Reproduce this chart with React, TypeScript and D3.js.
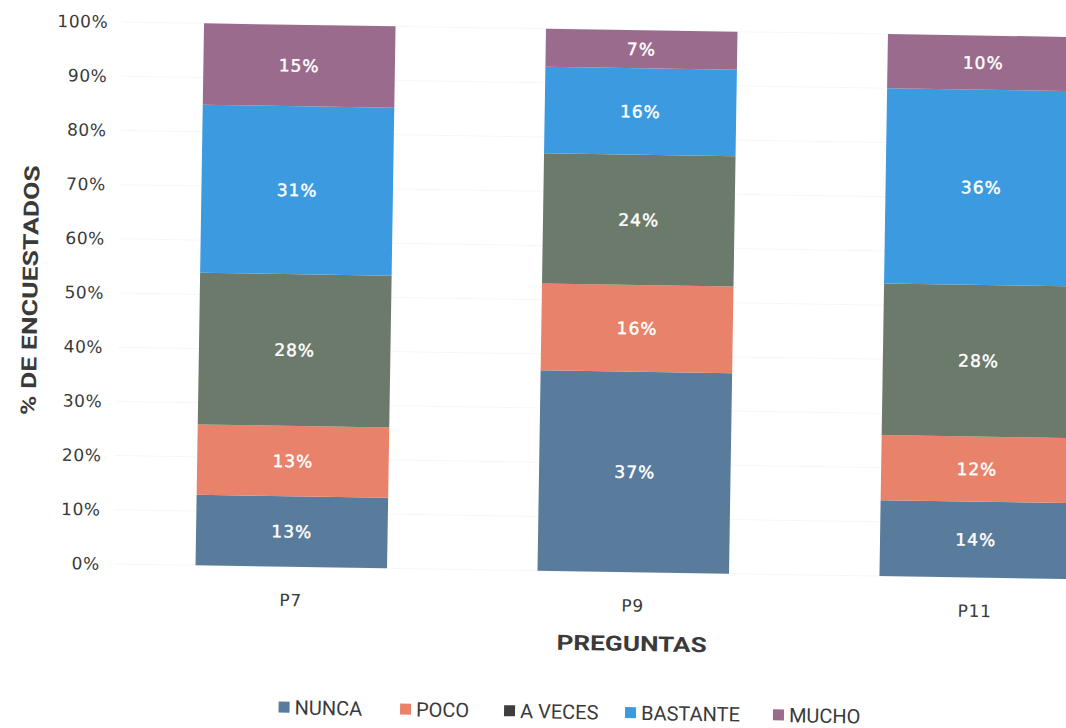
import React from "react";
import * as d3 from "d3";

const categories = ["P7", "P9", "P11"];
const seriesNames = ["NUNCA", "POCO", "A VECES", "BASTANTE", "MUCHO"];
const nunca = [13, 37, 14];
const poco = [13, 16, 12];
const aVeces = [28, 24, 28];
const bastante = [31, 16, 36];
const mucho = [15, 7, 10];
const yTicks = [0, 10, 20, 30, 40, 50, 60, 70, 80, 90, 100];
const colors = ["#597b9c", "#e9826a", "#6c7a6b", "#3c9ae1", "#9a6b8c"];
const legendColors = ["#597b9c", "#e9826a", "#3e3e3e", "#3c9ae1", "#9a6b8c"];

const W = 1066;
const H = 728;

export default function App() {
  const seriesValues = [nunca, poco, aVeces, bastante, mucho];
  const rows = categories.map((c, i) => {
    const r: any = { cat: c };
    seriesNames.forEach((s, k) => (r[s] = seriesValues[k][i]));
    return r;
  });
  const stacked = d3.stack<any>().keys(seriesNames)(rows);

  const x = d3
    .scaleBand()
    .domain(categories)
    .range([124.5, 124.5 + 342 * 3])
    .paddingInner(0.44)
    .paddingOuter(0.22);
  const y = d3.scaleLinear().domain([0, 100]).range([570.5, 28.5]);

  const legendX = [285, 406.5, 510.5, 631.5, 779.5];
  const legendY = 711;

  return (
    <svg
      width={W}
      height={H}
      style={{ position: "absolute", left: 0, top: 0, background: "#fff" }}
    >
      <rect width={W} height={H} fill="#fff" />
      <g transform="rotate(0.9 530 300)">
        {yTicks.map((t) => (
          <line
            key={"g" + t}
            x1={118}
            x2={W + 40}
            y1={y(t)}
            y2={y(t)}
            stroke="#f7f7f7"
            strokeWidth={1}
          />
        ))}
        {yTicks.map((t) => (
          <text
            key={"t" + t}
            x={104}
            y={y(t)}
            dy="0.35em"
            textAnchor="end"
            fontFamily="DejaVu Sans"
            fontSize={17}
            letterSpacing={0.6}
            fill="#3a3a3a"
          >
            {t + "%"}
          </text>
        ))}
        {stacked.map((layer, k) =>
          layer.map((d, i) => (
            <rect
              key={layer.key + i}
              x={x(categories[i])}
              width={x.bandwidth()}
              y={y(d[1])}
              height={y(d[0]) - y(d[1])}
              fill={colors[k]}
            />
          ))
        )}
        {stacked.map((layer, k) =>
          layer.map((d, i) => (
            <text
              key={"l" + layer.key + i}
              x={(x(categories[i]) as number) + x.bandwidth() / 2}
              y={(y(d[0]) + y(d[1])) / 2}
              dy="0.36em"
              textAnchor="middle"
              fontFamily="DejaVu Sans"
              fontSize={17}
              letterSpacing={1}
              fill="#ffffff"
              stroke="#ffffff"
              strokeWidth={0.45}
            >
              {seriesValues[k][i] + "%"}
            </text>
          ))
        )}
        {categories.map((c) => (
          <text
            key={"x" + c}
            x={(x(c) as number) + x.bandwidth() / 2}
            y={604}
            dy="0.35em"
            textAnchor="middle"
            fontFamily="DejaVu Sans"
            fontSize={17}
            letterSpacing={0.8}
            fill="#3a3a3a"
          >
            {c}
          </text>
        ))}
        <text
          x={637}
          y={642}
          dy="0.35em"
          textAnchor="middle"
          fontFamily="Roboto"
          fontWeight="bold"
          fontSize={21}
          textLength={150}
          lengthAdjust="spacingAndGlyphs"
          fill="#3a3a3a"
        >
          PREGUNTAS
        </text>
        <text
          transform="translate(30,298) rotate(-90)"
          dy="0.35em"
          textAnchor="middle"
          fontFamily="Roboto"
          fontWeight="bold"
          fontSize={21}
          textLength={250}
          lengthAdjust="spacingAndGlyphs"
          fill="#3a3a3a"
        >
          % DE ENCUESTADOS
        </text>
        {seriesNames.map((s, k) => (
          <g key={"lg" + s}>
            <rect
              x={legendX[k]}
              y={legendY - 5.5}
              width={11}
              height={11}
              fill={legendColors[k]}
            />
            <text
              x={legendX[k] + 16}
              y={legendY}
              dy="0.36em"
              fontFamily="Roboto"
              fontSize={20}
              fill="#3a3a3a"
            >
              {s}
            </text>
          </g>
        ))}
      </g>
    </svg>
  );
}
